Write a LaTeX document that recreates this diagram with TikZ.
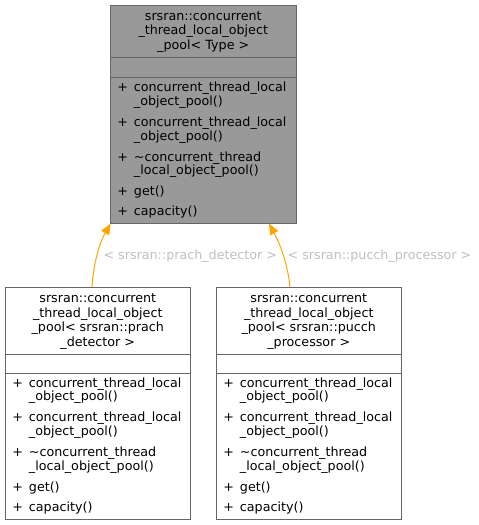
\documentclass[tikz,border=0pt]{standalone}
\usepackage{fontspec}
\setmainfont{DejaVu Sans}
\usetikzlibrary{arrows.meta,calc}
\definecolor{boxborder}{HTML}{666666}
\definecolor{boxgray}{HTML}{999999}
\definecolor{edgeorange}{HTML}{FFA500}
\definecolor{labelgray}{HTML}{BFBFBF}
\newcommand{\titlefont}{\fontsize{12.7}{14.5}\selectfont}
\newcommand{\memfont}{\fontsize{12.7}{13.3}\selectfont}
\newcommand{\memlist}{%
\begin{tabular}[t]{@{}l@{\hspace{6pt}}l@{}}
+ & concurrent\_thread\_local\\
  & \_object\_pool()\\[7.4pt]
+ & concurrent\_thread\_local\\
  & \_object\_pool()\\[7.4pt]
+ & \textasciitilde concurrent\_thread\\
  & \_local\_object\_pool()\\[7.4pt]
+ & get()\\[6.4pt]
+ & capacity()
\end{tabular}}
\begin{document}
\begin{tikzpicture}[x=1pt,y=-1pt,
  every node/.style={inner sep=0pt,outer sep=0pt},
  classbox/.style={draw=boxborder,line width=1pt,anchor=north west,minimum width=185.5pt},
  sepline/.style={draw=boxborder,line width=1pt},
  titletext/.style={anchor=base,align=center,font=\titlefont},
  memtext/.style={anchor=base west,font=\memfont},
  edgelabel/.style={anchor=base,font=\fontsize{12.7}{14}\selectfont,text=labelgray},
  inherit/.style={draw=edgeorange,line width=1pt,-{Triangle[length=11pt,width=9pt]}}]
\useasboundingbox (0,0) rectangle (479,525);

% base class
\node[classbox,fill=boxgray,minimum height=218.5pt] (base) at (110.5,5) {};
\draw[sepline] ($(base.north west)+(0,52.3)$) -- ($(base.north east)+(0,52.3)$);
\draw[sepline] ($(base.north west)+(0,72.3)$) -- ($(base.north east)+(0,72.3)$);
\node[titletext] (basetitle) at (203.25,20) {\titlefont\begin{tabular}[t]{@{}c@{}}srsran::concurrent\\\_thread\_local\_object\\\_pool< Type >\end{tabular}};
\node[memtext] (basemem) at (117.3,91.7) {\memfont\memlist};

% prach detector instantiation
\node[classbox,fill=white,minimum height=232.5pt] (prach) at (5,287) {};
\draw[sepline] ($(prach.north west)+(0,67)$) -- ($(prach.north east)+(0,67)$);
\draw[sepline] ($(prach.north west)+(0,86)$) -- ($(prach.north east)+(0,86)$);
\node[titletext] (prachtitle) at (97.75,302.5) {\titlefont\begin{tabular}[t]{@{}c@{}}srsran::concurrent\\\_thread\_local\_object\\\_pool< srsran::prach\\\_detector >\end{tabular}};
\node[memtext] (prachmem) at (12.3,387.2) {\memfont\memlist};

% pucch processor instantiation
\node[classbox,fill=white,minimum height=232.5pt] (pucch) at (216,287) {};
\draw[sepline] ($(pucch.north west)+(0,67)$) -- ($(pucch.north east)+(0,67)$);
\draw[sepline] ($(pucch.north west)+(0,86)$) -- ($(pucch.north east)+(0,86)$);
\node[titletext] (pucchtitle) at (308.75,302.5) {\titlefont\begin{tabular}[t]{@{}c@{}}srsran::concurrent\\\_thread\_local\_object\\\_pool< srsran::pucch\\\_processor >\end{tabular}};
\node[memtext] (pucchmem) at (223.3,387.2) {\memfont\memlist};

% connectors
\coordinate (prachtop) at (92,287);
\coordinate (basel) at (110.7,223.5);
\coordinate (pucchtop) at (290,287);
\coordinate (baser) at (269,223.5);
\draw[inherit] (prachtop) .. controls (93.5,262) and (100,242) .. (basel);
\draw[inherit] (pucchtop) .. controls (287.5,262) and (279,242) .. (baser);
\node[edgelabel] (lab1) at (190.3,259.3) {< srsran::prach\_detector >};
\node[edgelabel] (lab2) at (379.5,259.3) {< srsran::pucch\_processor >};
\end{tikzpicture}
\end{document}
